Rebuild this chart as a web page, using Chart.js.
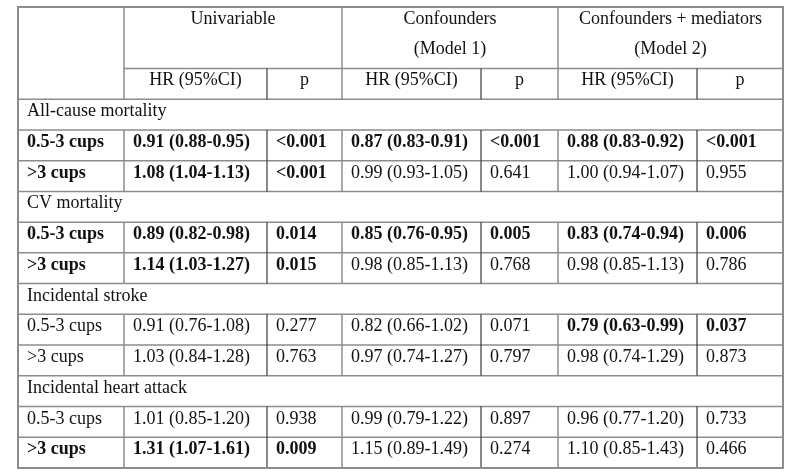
<!DOCTYPE html>
<html><head><meta charset="utf-8">
<script src="https://cdn.jsdelivr.net/npm/chart.js@4"></script>
<style>html,body{margin:0;background:#fff}#wrap{width:800px;height:473px}</style>
</head><body><div id="wrap"><canvas id="c"></canvas></div>
<script>
// ---- data ----
const modelNames = [['Univariable'], ['Confounders', '(Model 1)'], ['Confounders + mediators', '(Model 2)']];
const subHeaders = ['HR (95%CI)', 'p'];
const outcomes = ['All-cause mortality', 'CV mortality', 'Incidental stroke', 'Incidental heart attack'];
const intakeGroups = ['0.5-3 cups', '>3 cups'];
const hrUnivariable = ['0.91 (0.88-0.95)', '1.08 (1.04-1.13)', '0.89 (0.82-0.98)', '1.14 (1.03-1.27)', '0.91 (0.76-1.08)', '1.03 (0.84-1.28)', '1.01 (0.85-1.20)', '1.31 (1.07-1.61)'];
const pUnivariable = ['<0.001', '<0.001', '0.014', '0.015', '0.277', '0.763', '0.938', '0.009'];
const hrModel1 = ['0.87 (0.83-0.91)', '0.99 (0.93-1.05)', '0.85 (0.76-0.95)', '0.98 (0.85-1.13)', '0.82 (0.66-1.02)', '0.97 (0.74-1.27)', '0.99 (0.79-1.22)', '1.15 (0.89-1.49)'];
const pModel1 = ['<0.001', '0.641', '0.005', '0.768', '0.071', '0.797', '0.897', '0.274'];
const hrModel2 = ['0.88 (0.83-0.92)', '1.00 (0.94-1.07)', '0.83 (0.74-0.94)', '0.98 (0.85-1.13)', '0.79 (0.63-0.99)', '0.98 (0.74-1.29)', '0.96 (0.77-1.20)', '1.10 (0.85-1.43)'];
const pModel2 = ['<0.001', '0.955', '0.006', '0.786', '0.037', '0.873', '0.733', '0.466'];

// ---- layout (not data) ----
const colEdges = [0, 106, 249, 324, 463, 540, 679, 765]; // x-scale units
const headerRows = 3;             // y-scale units used by header
const totalRows = headerRows + outcomes.length * (1 + intakeGroups.length);
const GREY = '#8c8c8c', DARK = '#3a3a3a', TEXT = '#111';
const FONT = '"Liberation Serif", "Times New Roman", serif';

const isSig = p => p.startsWith('<') || parseFloat(p) < 0.05;

const tablePlugin = {
  id: 'tablePlugin',
  afterDraw(chart) {
    const ctx = chart.ctx;
    const xs = chart.scales.x, ys = chart.scales.y;
    const X = v => xs.getPixelForValue(v);
    const Y = v => ys.getPixelForValue(v);
    const line = (x1, y1, x2, y2, color, w) => {
      ctx.beginPath(); ctx.strokeStyle = color; ctx.lineWidth = w;
      ctx.moveTo(x1, y1); ctx.lineTo(x2, y2); ctx.stroke();
    };
    ctx.save();
    // horizontal lines
    line(X(colEdges[1]), Y(2), X(colEdges[7]), Y(2), GREY, 1.5);
    for (let r = headerRows; r < totalRows; r++) line(X(0), Y(r), X(colEdges[7]), Y(r), GREY, 1.5);
    // header verticals
    [1, 3, 5].forEach(i => line(X(colEdges[i]), Y(0), X(colEdges[i]), Y(headerRows), GREY, 1.5));
    [2, 4, 6].forEach(i => line(X(colEdges[i]), Y(2), X(colEdges[i]), Y(headerRows), DARK, 1.2));
    // body verticals
    for (let r = headerRows; r < totalRows; r++) {
      if ((r - headerRows) % 3 === 0) continue;
      for (let i = 1; i <= 6; i++) line(X(colEdges[i]), Y(r), X(colEdges[i]), Y(r + 1), i % 2 === 0 ? DARK : GREY, i % 2 === 0 ? 1.2 : 1.5);
    }
    // outer border
    ctx.strokeStyle = GREY; ctx.lineWidth = 2;
    ctx.strokeRect(X(0), Y(0), X(colEdges[7]) - X(0), Y(totalRows) - Y(0));

    // text
    ctx.fillStyle = TEXT; ctx.textBaseline = 'alphabetic';
    const txt = (s, x, y, bold, align) => {
      ctx.font = (bold ? 'bold ' : '') + '18px ' + FONT;
      ctx.textAlign = align; ctx.fillText(s, x, y);
    };
    modelNames.forEach((lines, m) => {
      const cx = (X(colEdges[1 + 2 * m]) + X(colEdges[3 + 2 * m])) / 2;
      lines.forEach((s, li) => txt(s, cx, Y(0) + 17 + li * 30, false, 'center'));
      subHeaders.forEach((s, k) => {
        const c = (X(colEdges[1 + 2 * m + k]) + X(colEdges[2 + 2 * m + k])) / 2;
        txt(s, c, Y(2) + 17, false, 'center');
      });
    });
    const hr = [hrUnivariable, hrModel1, hrModel2];
    const pv = [pUnivariable, pModel1, pModel2];
    outcomes.forEach((o, k) => {
      const r0 = headerRows + k * 3;
      txt(o, X(0) + 9, Y(r0) + 17, false, 'left');
      intakeGroups.forEach((g, gi) => {
        const idx = k * 2 + gi, r = r0 + 1 + gi;
        txt(g, X(0) + 9, Y(r) + 17, isSig(pUnivariable[idx]), 'left');
        for (let m = 0; m < 3; m++) {
          const b = isSig(pv[m][idx]);
          txt(hr[m][idx], X(colEdges[1 + 2 * m]) + 9, Y(r) + 17, b, 'left');
          txt(pv[m][idx], X(colEdges[2 + 2 * m]) + 9, Y(r) + 17, b, 'left');
        }
      });
    });
    ctx.restore();
  }
};

new Chart(document.getElementById('c'), {
  type: 'scatter',
  data: { datasets: [{ data: [], pointRadius: 0 }] },
  options: {
    animation: false,
    responsive: true,
    maintainAspectRatio: false,
    layout: { padding: { left: 18, right: 17, top: 7, bottom: 5 } },
    scales: {
      x: { type: 'linear', min: colEdges[0], max: colEdges[colEdges.length - 1], display: false },
      y: { type: 'linear', min: 0, max: totalRows, reverse: true, display: false }
    },
    plugins: { legend: { display: false }, tooltip: { enabled: false } }
  },
  plugins: [tablePlugin]
});
</script>
</body></html>
